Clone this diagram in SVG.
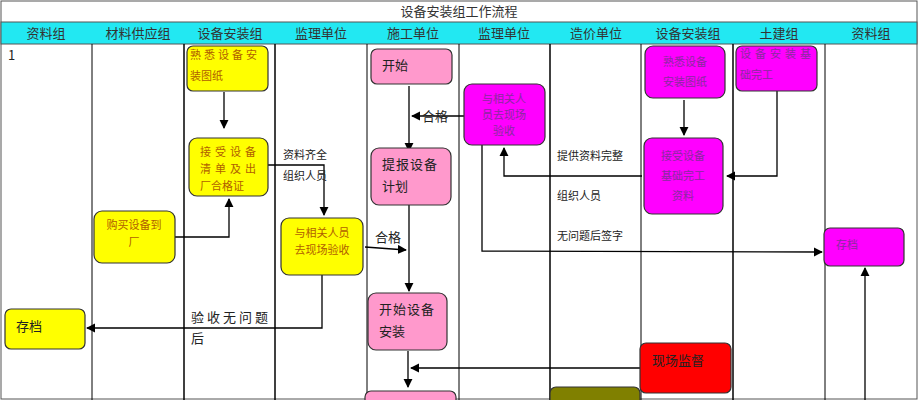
<svg xmlns="http://www.w3.org/2000/svg" width="918" height="400" viewBox="0 0 918 400">
<defs>
<marker id="a" viewBox="0 0 10 10" refX="9" refY="5" markerWidth="7" markerHeight="7" orient="auto"><path d="M0,0L10,5L0,10z" fill="#000"/></marker>
<style>
text{font-family:"Noto Sans CJK SC","Liberation Serif",serif;}
.h{font-size:13px;fill:#333;text-anchor:middle}
.n{stroke:#333;stroke-width:1.2}
.y{fill:#ffff00}.p{fill:#ff99cc}.m{fill:#ff00ff}
.t{font-size:11px;fill:#b06000}
.tp{font-size:13px;fill:#222}
.tm{font-size:11px;fill:#8a2aa0}
.c path{fill:none;stroke:#000;stroke-width:1.3;marker-end:url(#a)}
.l{font-size:11px;fill:#222}
</style>
</defs>
<rect x="1" y="1" width="916" height="398" fill="#fff" stroke="#555"/>
<rect x="1" y="22" width="916" height="22" fill="#22e8f2" stroke="#555"/>
<text x="459" y="16" class="h" font-size="14">设备安装组工作流程</text>
<g class="h">
<text x="46" y="38">资料组</text><text x="138" y="38">材料供应组</text><text x="230" y="38">设备安装组</text><text x="321" y="38">监理单位</text><text x="413" y="38">施工单位</text><text x="504" y="38">监理单位</text><text x="596" y="38">造价单位</text><text x="688" y="38">设备安装组</text><text x="779" y="38">土建组</text><text x="871" y="38">资料组</text>
</g>
<g stroke="#000" stroke-width="1">
<line x1="92" y1="44" x2="92" y2="400"/><line x1="184" y1="44" x2="184" y2="400" stroke-width="1.5"/><line x1="275" y1="44" x2="275" y2="400" stroke-width="1.5"/><line x1="367" y1="44" x2="367" y2="400"/><line x1="459" y1="44" x2="459" y2="400"/><line x1="550" y1="44" x2="550" y2="400" stroke-width="1.5"/><line x1="641" y1="44" x2="641" y2="400"/><line x1="733" y1="44" x2="733" y2="400" stroke-width="1.5"/><line x1="825" y1="44" x2="825" y2="400"/>
</g>
<text x="8" y="60" class="tp" font-size="12">1</text>
<g class="c">
<path d="M224,92V128"/>
<path d="M175,237H229V199"/>
<path d="M268,165H324V215"/>
<path d="M322,275V328H87"/>
<path d="M409,86V151"/>
<path d="M464,116H412"/>
<path d="M365,247L406,250"/>
<path d="M409,205V291"/>
<path d="M408,351V387"/>
<path d="M640,368H411"/>
<path d="M684,100V135"/>
<path d="M777,91V176H727"/>
<path d="M642,176H504V148"/>
<path d="M482,145V251L822,252"/>
<path d="M865,400V268"/>
</g>
<g class="l">
<text x="283" y="159">资料齐全</text><text x="283" y="180">组织人员</text>
<text x="557" y="160">提供资料完整</text><text x="557" y="200">组织人员</text><text x="557" y="240">无问题后签字</text>
</g>
<text x="422" y="121" class="tp">合格</text>
<text x="375" y="242" class="tp">合格</text>
<text x="191" y="322" class="tp" letter-spacing="3">验收无问题</text>
<text x="191" y="343" class="tp">后</text>
<g id="n1"><rect class="n y" x="187" y="46" width="81" height="45" rx="6"/><text class="t" x="190" y="59" letter-spacing="3">熟悉设备安</text><text class="t" x="190" y="80">装图纸</text></g>
<g id="n2"><rect class="n y" x="189" y="138" width="79" height="58" rx="8"/><text class="t" x="200" y="156" letter-spacing="4">接受设备</text><text class="t" x="200" y="173" letter-spacing="4">清单及出</text><text class="t" x="200" y="190">厂合格证</text></g>
<g id="n3"><rect class="n y" x="94" y="211" width="81" height="52" rx="8"/><text class="t" x="134" y="229" text-anchor="middle">购买设备到</text><text class="t" x="134" y="246" text-anchor="middle">厂</text></g>
<g id="n4"><rect class="n y" x="281" y="218" width="82" height="57" rx="8"/><text class="t" x="322" y="237" text-anchor="middle">与相关人员</text><text class="t" x="322" y="254" text-anchor="middle">去现场验收</text></g>
<g id="n5"><rect class="n y" x="5" y="309" width="80" height="40" rx="6"/><text class="tp" x="16" y="331">存档</text></g>
<g id="n6"><rect class="n p" x="371" y="49" width="81" height="35" rx="6"/><text class="tp" x="382" y="70">开始</text></g>
<g id="n7"><rect class="n p" x="371" y="148" width="80" height="57" rx="8"/><text class="tp" x="382" y="169" letter-spacing="1">提报设备</text><text class="tp" x="382" y="191">计划</text></g>
<g id="n8"><rect class="n p" x="368" y="293" width="79" height="57" rx="8"/><text class="tp" x="379" y="314" letter-spacing="1">开始设备</text><text class="tp" x="379" y="336">安装</text></g>
<g id="n9"><rect class="n p" x="365" y="391" width="91" height="20" rx="6"/></g>
<g id="n10"><rect class="n m" x="464" y="84" width="81" height="61" rx="8"/><text class="tm" x="504" y="103" text-anchor="middle">与相关人</text><text class="tm" x="504" y="119" text-anchor="middle">员去现场</text><text class="tm" x="504" y="135" text-anchor="middle">验收</text></g>
<g id="n11"><rect class="n m" x="645" y="46" width="80" height="52" rx="8"/><text class="tm" x="685" y="66" text-anchor="middle">熟悉设备</text><text class="tm" x="685" y="86" text-anchor="middle">安装图纸</text></g>
<g id="n12"><rect class="n m" x="644" y="138" width="79" height="76" rx="8"/><text class="tm" x="683" y="160" text-anchor="middle">接受设备</text><text class="tm" x="683" y="180" text-anchor="middle">基础完工</text><text class="tm" x="683" y="200" text-anchor="middle">资料</text></g>
<g id="n13"><rect class="n m" x="736" y="46" width="81" height="45" rx="6"/><text class="tm" x="740" y="58" letter-spacing="4">设备安装基</text><text class="tm" x="740" y="79">础完工</text></g>
<g id="n14"><rect class="n m" x="824" y="228" width="80" height="38" rx="6"/><text class="tm" x="836" y="249">存档</text></g>
<g id="n15"><rect class="n" fill="#ff0000" x="640" y="343" width="91" height="50" rx="6"/><text class="tp" x="652" y="365">现场监督</text></g>
<g id="n16"><rect class="n" fill="#808000" x="550" y="387" width="90" height="25" rx="6"/></g>
</svg>
